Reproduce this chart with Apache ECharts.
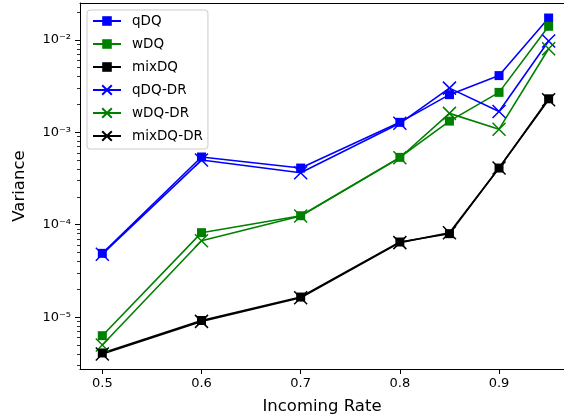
<!DOCTYPE html>
<html>
<head>
<meta charset="utf-8">
<script src="https://cdn.jsdelivr.net/npm/echarts@6/dist/echarts.min.js"></script>
<style>
  html, body { margin: 0; padding: 0; background: #fff; overflow: hidden; }
  #chart { width: 564px; height: 419px; }
</style>
</head>
<body>
<div id="chart"></div>
<script>
// incoming rates (x)
const rates = [0.5, 0.6, 0.7, 0.8, 0.85, 0.9, 0.95]

// variance per method
const qDQ = [4.9e-5, 5.4e-4, 4.1e-4, 1.28e-3, 2.55e-3, 4.1e-3, 1.72e-2]
const wDQ = [6.3e-6, 8.2e-5, 1.25e-4, 5.35e-4, 1.32e-3, 2.7e-3, 1.4e-2]
const mixDQ = [4.1e-6, 9.2e-6, 1.65e-5, 6.5e-5, 8.0e-5, 4.1e-4, 2.3e-3]
const qDQ_DR = [4.8e-5, 5.0e-4, 3.65e-4, 1.25e-3, 3.0e-3, 1.68e-3, 9.7e-3]
const wDQ_DR = [5.0e-6, 6.7e-5, 1.24e-4, 5.3e-4, 1.6e-3, 1.08e-3, 8.0e-3]
const mixDQ_DR = [4.0e-6, 9.0e-6, 1.62e-5, 6.4e-5, 8.2e-5, 4.1e-4, 2.25e-3]

// tick labels
const xTicks = [0.5, 0.6, 0.7, 0.8, 0.9]
const yMajor = [1e-5, 1e-4, 1e-3, 1e-2]
const yMinor = []
for (let e = -6; e <= -2; e++) {
  for (let k = 2; k <= 9; k++) yMinor.push(k * Math.pow(10, e))
}
const supDigits = { '-': '\u207b', '0': '\u2070', '1': '\u00b9', '2': '\u00b2', '3': '\u00b3', '4': '\u2074', '5': '\u2075', '6': '\u2076', '7': '\u2077', '8': '\u2078', '9': '\u2079' }

const FONT = 'DejaVu Sans'
const crossPath = 'path://M0,0L10,10M10,0L0,10'

const zip = (ys) => rates.map((x, i) => [x, ys[i]])

const makeSeries = (name, ys, color, dr) => ({
  name,
  type: 'line',
  data: zip(ys),
  symbol: dr ? crossPath : 'rect',
  symbolSize: dr ? 13 : 9,
  color: color,
  lineStyle: { color: color, width: 1.6 },
  itemStyle: dr
    ? { color: color, borderColor: color, borderWidth: 1.5 }
    : { color: color, borderWidth: 0 },
  emphasis: { disabled: true },
})

const chart = echarts.init(document.getElementById('chart'))

const option = {
  animation: false,
  backgroundColor: '#fff',
  textStyle: { fontFamily: FONT },
  grid: {
    left: 80, top: 3, right: 0, bottom: 50,
    outerBoundsMode: 'none',
  },
  legend: {
    orient: 'vertical',
    left: 87, top: 10,
    padding: [4, 5, 6, 5],
    itemWidth: 28, itemHeight: 12, itemGap: 9,
    backgroundColor: 'rgba(255,255,255,0.85)',
    borderColor: '#cccccc', borderWidth: 1, borderRadius: 3,
    textStyle: { fontFamily: FONT, fontSize: 13.5, color: '#000', padding: [0, 0, 0, 6] },
    data: ['qDQ', 'wDQ', 'mixDQ', 'qDQ-DR', 'wDQ-DR', 'mixDQ-DR'],
  },
  xAxis: [
    {
      type: 'value',
      min: 0.4775, max: 0.9655,
      name: 'Incoming Rate',
      nameLocation: 'middle', nameGap: 29,
      nameTextStyle: { fontFamily: FONT, fontSize: 16.5, color: '#000' },
      axisLine: { lineStyle: { color: '#000', width: 1 } },
      axisTick: { show: true, length: 5, customValues: xTicks, lineStyle: { color: '#000' } },
      axisLabel: {
        customValues: xTicks, margin: 8,
        fontFamily: FONT, fontSize: 13, color: '#000',
        formatter: (v) => v.toFixed(1),
      },
      splitLine: { show: false },
    },
    {
      // top spine
      type: 'value',
      position: 'top',
      min: 0.4775, max: 0.9655,
      axisLine: { show: true, lineStyle: { color: '#000', width: 1 } },
      axisTick: { show: false },
      axisLabel: { show: false },
      splitLine: { show: false },
    },
  ],
  yAxis: [
    {
      type: 'log',
      min: 2.75e-6, max: 2.5e-2,
      position: 'left',
      name: 'Variance',
      nameLocation: 'middle', nameGap: 52,
      nameTextStyle: { fontFamily: FONT, fontSize: 16.5, color: '#000' },
      axisLine: { show: true, lineStyle: { color: '#000', width: 1 } },
      axisTick: { show: true, length: 5, customValues: yMajor, lineStyle: { color: '#000' } },
      axisLabel: {
        customValues: yMajor, margin: 9,
        fontFamily: FONT, fontSize: 13, color: '#000',
        formatter: (v) => {
          const e = Math.round(Math.log10(v))
          return '10' + String(e).split('').map((c) => supDigits[c]).join('')
        },
      },
      splitLine: { show: false },
    },
    {
      // minor ticks on the same left spine
      type: 'log',
      min: 2.75e-6, max: 2.5e-2,
      position: 'left',
      axisLine: { show: false },
      axisTick: { show: true, length: 3, customValues: yMinor, lineStyle: { color: '#000', width: 0.8 } },
      axisLabel: { show: false },
      splitLine: { show: false },
    },
  ],
  series: [
    makeSeries('qDQ', qDQ, '#0000ff', false),
    makeSeries('wDQ', wDQ, '#008000', false),
    makeSeries('mixDQ', mixDQ, '#000000', false),
    makeSeries('qDQ-DR', qDQ_DR, '#0000ff', true),
    makeSeries('wDQ-DR', wDQ_DR, '#008000', true),
    makeSeries('mixDQ-DR', mixDQ_DR, '#000000', true),
  ],
}

chart.setOption(option)
</script>
</body>
</html>
